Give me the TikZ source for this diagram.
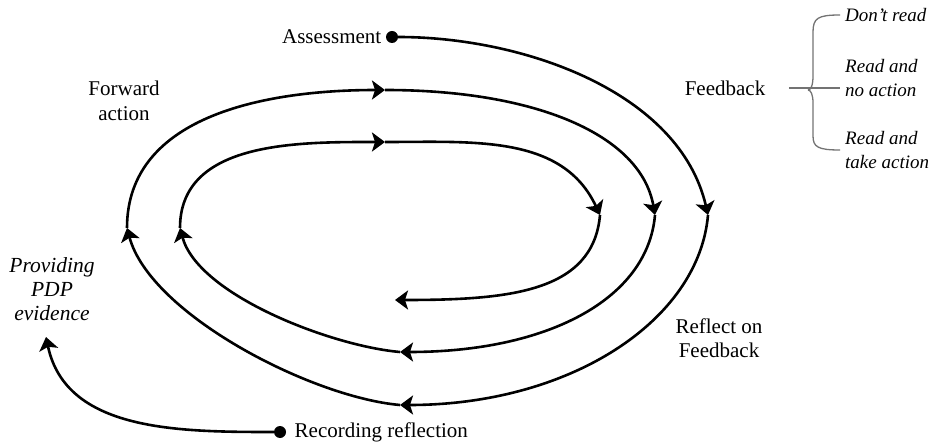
\documentclass[tikz,border=0pt]{standalone}
\usepackage{fontspec}
\setmainfont{Liberation Serif}
\usetikzlibrary{arrows.meta}
\tikzset{
    loop/.style = {line width=2.6pt, -{Stealth[length=13pt, width=19pt, inset=3pt]}},
    dot/.style = {circle, fill=black, inner sep=0pt, minimum size=12pt},
    stage/.style = {font=\fontsize{21}{24.5}\selectfont, align=center},
    choice/.style = {font=\fontsize{19}{24}\selectfont\itshape, align=left, anchor=west, inner sep=0pt},
    brace/.style = {draw=black!55, line width=1.3pt}
}

\begin{document}
\begin{tikzpicture}[x=1pt, y=1pt]
        \useasboundingbox (0,0) rectangle (933,442);
        % place start and end dots
        \node[dot, label={[stage, label distance=1pt]left:Assessment}] (assess) at (392,405) {};
        \node[dot, label={[stage, label distance=5pt]right:Recording reflection}] (record) at (280,10) {};

        % place stage labels
        \node[stage] (forward) at (124,341) {Forward\\action};
        \node[stage] (feedback) at (725,354) {Feedback};
        \node[stage] (reflect) at (719,104) {Reflect on\\Feedback};
        \node[stage, font=\fontsize{21.5}{24}\selectfont\itshape] (pdp) at (52,153) {Providing\\PDP\\evidence};
        \node[choice] (dontread) at (845,427) {Don't read};
        \node[choice] (noaction) at (845,364) {Read and\\no action};
        \node[choice] (takeaction) at (845,292) {Read and\\take action};

        % turning points of the spiral
        \coordinate (out-right) at (708,227);
        \coordinate (out-bottom) at (400,37);
        \coordinate (out-left) at (127,214);
        \coordinate (mid-top) at (385,352);
        \coordinate (mid-right) at (655,227);
        \coordinate (mid-bottom) at (400,90);
        \coordinate (mid-left) at (180,214);
        \coordinate (in-top) at (385,300);
        \coordinate (in-right) at (600,227);
        \coordinate (in-end) at (395,142);
        \coordinate (pdp-tip) at (46,105);

        % draw the spiral
        \draw[loop] (assess) to[out=0, in=103, looseness=0.9] (out-right);
        \draw[loop] (out-right) to[out=-95, in=0, out looseness=0.75, in looseness=1.2] (out-bottom);
        \draw[loop] (out-bottom) to[out=175, in=-75, looseness=0.7] (out-left);
        \draw[loop] (out-left) to[out=90, in=180] (mid-top);
        \draw[loop] (mid-top) to[out=0, in=100, out looseness=1.3, in looseness=0.7] (mid-right);
        \draw[loop] (mid-right) to[out=-95, in=0, out looseness=0.75, in looseness=1.3] (mid-bottom);
        \draw[loop] (mid-bottom) to[out=175, in=-75, looseness=0.7] (mid-left);
        \draw[loop] (mid-left) to[out=90, in=180] (in-top);
        \draw[loop] (in-top) to[out=0, in=115] (in-right);
        \draw[loop] (in-right) to[out=-95, in=0, out looseness=0.9, in looseness=1.3] (in-end);
        % draw recording arrow
        \draw[loop] (record) to[out=180, in=-78] (pdp-tip);

        % draw feedback brace
        \draw[brace] ([xshift=20pt]feedback.east) -- ([xshift=-5pt]noaction.west |- feedback);
        \draw[brace] ([xshift=-5pt]dontread.west) .. controls (818,427) and (813,424) .. (813,410)
            -- (813,366) .. controls (813,357) and (811,352) .. (808,352);
        \draw[brace] ([xshift=-5pt]takeaction.west) .. controls (818,292) and (813,295) .. (813,306)
            -- (813,339) .. controls (813,347) and (811,352) .. (808,352);
    \end{tikzpicture}
\end{document}
